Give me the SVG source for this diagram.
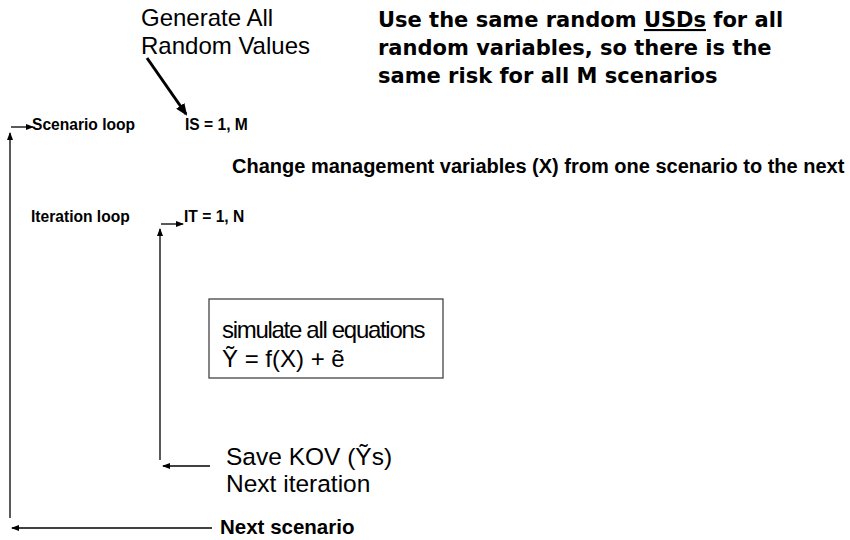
<svg xmlns="http://www.w3.org/2000/svg" width="850" height="540" viewBox="0 0 850 540">
<style>
.a{font-family:"Liberation Sans",Arial,sans-serif;fill:#000}
.sb{font-size:15.6px;font-weight:bold}
.lg{font-size:24px}
.v{font-family:"DejaVu Sans",Verdana,sans-serif;font-weight:bold;font-size:21px;fill:#000}
.ln{stroke:#000;stroke-width:1.3;fill:none}
</style>
<defs>
<marker id="ah" markerWidth="8" markerHeight="6" refX="7" refY="3" orient="auto" markerUnits="userSpaceOnUse"><path d="M0,0 L8,3 L0,6 z" fill="#000"/></marker>
<marker id="ahb" markerWidth="12" markerHeight="10" refX="10" refY="5" orient="auto" markerUnits="userSpaceOnUse"><path d="M0,0 L12,5 L0,10 z" fill="#000"/></marker>
</defs>
<g id="connectors">
<line class="ln" x1="11" y1="127" x2="33" y2="127" marker-end="url(#ah)"/>
<line class="ln" x1="10" y1="518" x2="10" y2="133" marker-end="url(#ah)"/>
<line class="ln" x1="212" y1="528" x2="12" y2="528" marker-end="url(#ah)"/>
<line class="ln" x1="161" y1="224" x2="183" y2="224" marker-end="url(#ah)"/>
<line class="ln" x1="160" y1="460" x2="160" y2="229" marker-end="url(#ah)"/>
<line class="ln" x1="210" y1="466" x2="163" y2="466" marker-end="url(#ah)"/>
<line x1="147" y1="58" x2="186" y2="114" stroke="#000" stroke-width="3" marker-end="url(#ahb)"/>
</g>
<g id="generate">
<text class="a lg" x="141" y="26">Generate All</text>
<text class="a lg" x="141" y="54">Random Values</text>
</g>
<g id="note">
<text class="v" x="378" y="27">Use the same random <tspan text-decoration="underline">USDs</tspan> for all</text>
<text class="v" x="378" y="55">random variables, so there is the</text>
<text class="v" x="378" y="83">same risk for all M scenarios</text>
</g>
<g id="scenario-loop">
<text class="a sb" x="32" y="130">Scenario loop</text>
<text class="a sb" x="185" y="130">IS = 1, M</text>
</g>
<g id="change">
<text class="a" x="232" y="173" font-size="20" font-weight="bold">Change management variables (X) from one scenario to the next</text>
</g>
<g id="iteration-loop">
<text class="a sb" x="31" y="222">Iteration loop</text>
<text class="a sb" x="184" y="222">IT = 1, N</text>
</g>
<g id="simulate">
<rect x="209" y="299" width="234" height="79" fill="#fff" stroke="#444" stroke-width="1.3"/>
<text class="a lg" x="222" y="338" letter-spacing="-1.3">simulate all equations</text>
<text class="a lg" x="222" y="367">Ỹ = f(X) + ẽ</text>
</g>
<g id="save">
<text class="a" x="226" y="465" font-size="24.5">Save KOV (Ỹs)</text>
<text class="a" x="226" y="492" font-size="24.5">Next iteration</text>
</g>
<g id="next-scenario">
<text class="a" x="220" y="534" font-size="20.5" font-weight="bold">Next scenario</text>
</g>
</svg>
